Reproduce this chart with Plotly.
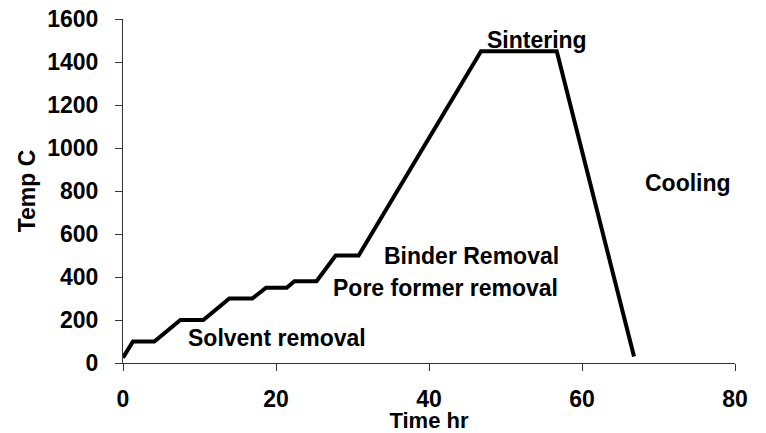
import plotly.graph_objects as go

# Firing schedule (time in hours, temperature in C)
time_hr = [0, 1.3, 4.1, 7.5, 10.5, 13.9, 16.9, 18.7, 21.4, 22.4, 25.3, 27.8, 30.8, 46.8, 56.7, 66.8]
temp_c = [25, 100, 100, 200, 200, 300, 300, 350, 350, 380, 380, 500, 500, 1450, 1450, 30]

# Stage labels
stage_text = ["Sintering", "Cooling", "Binder Removal", "Pore former removal", "Solvent removal"]
stage_x = [54.1, 73.8, 45.5, 42.1, 20.1]
stage_y = [1503, 838, 498, 350, 114]

x_ticks = [0, 20, 40, 60, 80]
y_ticks = [0, 200, 400, 600, 800, 1000, 1200, 1400, 1600]

FONT = "Arial, Liberation Sans, sans-serif"
FS = 23

fig = go.Figure()
fig.add_trace(go.Scatter(
    x=time_hr, y=temp_c, mode="lines",
    line=dict(color="black", width=4),
    showlegend=False, hoverinfo="skip",
))

for t, x, y in zip(stage_text, stage_x, stage_y):
    fig.add_annotation(
        x=x, y=y, text=t, showarrow=False,
        xanchor="center", yanchor="middle",
        font=dict(family=FONT, size=FS, color="black", weight="bold"),
    )

axis_common = dict(
    showgrid=False, zeroline=False, automargin=False,
    showline=True, linecolor="#333", linewidth=1.2,
    ticks="outside", ticklen=7, tickcolor="#333", tickwidth=1.2,
    tickfont=dict(family=FONT, size=FS, color="black", weight="bold"),
)

fig.update_xaxes(
    range=[0, 80], tickvals=x_ticks, ticklabelstandoff=8,
    title=dict(text="Time hr", standoff=4,
               font=dict(family=FONT, size=22, color="black", weight="bold")),
    **axis_common,
)
fig.update_yaxes(
    range=[0, 1600], tickvals=y_ticks, ticklabelstandoff=12,
    title=dict(text="Temp C", standoff=5,
               font=dict(family=FONT, size=FS, color="black", weight="bold")),
    **axis_common,
)

fig.update_layout(
    width=766, height=433,
    margin=dict(l=123, r=31, t=19, b=70),
    plot_bgcolor="white", paper_bgcolor="white",
)

# remove the default page margin so the figure fills the window exactly
fig.write_html(
    "out.html",
    config={"displayModeBar": False},
    post_script="document.body.style.margin='0';document.body.style.overflow='hidden';",
)
